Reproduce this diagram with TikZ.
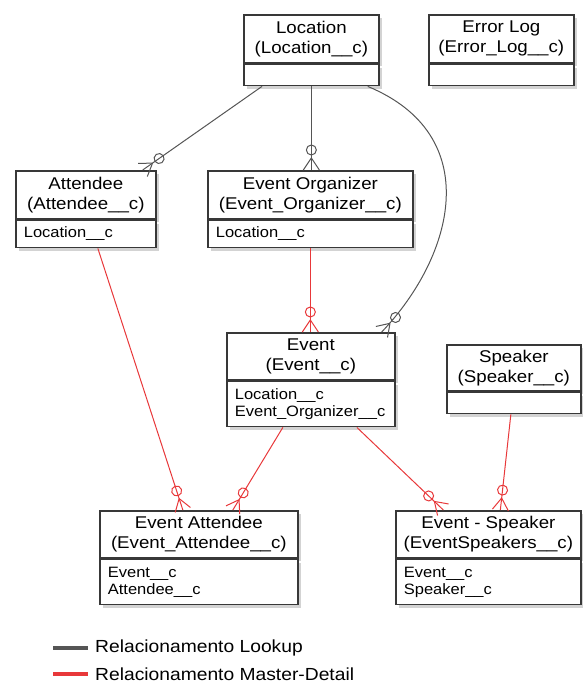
\documentclass[tikz,border=0pt]{standalone}
\usepackage{fontspec}
\setmainfont{Liberation Sans}[FakeStretch=1.1]
\usetikzlibrary{shadows,decorations.markings}
\definecolor{boxline}{HTML}{383838}
\definecolor{lkgray}{HTML}{555555}
\definecolor{mdred}{HTML}{E8383A}

\begin{document}
\begin{tikzpicture}[x=1pt, y=-1pt,
	ent/.style={draw=boxline, line width=1.7pt, fill=white, inner sep=0pt, anchor=north west,
		drop shadow={shadow xshift=3.5pt, shadow yshift=-3.5pt, opacity=.35}},
	entname/.style={ent, align=center, font=\fontsize{17}{20}\selectfont},
	entattr/.style={ent, align=left, inner xsep=8pt, font=\fontsize{15}{17}\selectfont},
	lookup/.style={color=lkgray, line width=1pt},
	md/.style={color=mdred, line width=1pt},
	zeromany/.style={postaction={decorate, decoration={markings,
		mark=at position 0.9999 with {\draw (-12pt,0) -- (0,8pt) (-12pt,0) -- (0,-8pt) (-20pt,0) circle (5pt);}}}},
	legtext/.style={anchor=west, inner sep=0pt, font=\fontsize{17.5}{20}\selectfont}]
		\useasboundingbox (0,0) rectangle (582,684);

		\path (243,14) node[entname, minimum width=135, minimum height=48] (loc) {Location\\(Location\_\_c)}
		(loc.south west) node[entattr, text width=119, minimum height=21] (locA) {}
		(428,14) node[entname, minimum width=145, minimum height=48] (err) {Error Log\\(Error\_Log\_\_c)}
		(err.south west) node[entattr, text width=129, minimum height=21] (errA) {};

		\path (15,170) node[entname, minimum width=140, minimum height=48] (att) {Attendee\\(Attendee\_\_c)}
		(att.south west) node[entattr, text width=124, minimum height=27] (attA) {Location\_\_c}
		(207,170) node[entname, minimum width=205, minimum height=48] (org) {Event Organizer\\(Event\_Organizer\_\_c)}
		(org.south west) node[entattr, text width=189, minimum height=27] (orgA) {Location\_\_c};

		\path (226,332) node[entname, minimum width=168, minimum height=47] (evt) {Event\\(Event\_\_c)}
		(evt.south west) node[entattr, text width=152, minimum height=45] (evtA) {Location\_\_c\\Event\_Organizer\_\_c}
		(446,344) node[entname, minimum width=134, minimum height=46] (spk) {Speaker\\(Speaker\_\_c)}
		(spk.south west) node[entattr, text width=118, minimum height=21] (spkA) {};

		\path (99,510) node[entname, minimum width=198, minimum height=47] (evatt) {Event Attendee\\(Event\_Attendee\_\_c)}
		(evatt.south west) node[entattr, text width=182, minimum height=45] (evattA) {Event\_\_c\\Attendee\_\_c}
		(395,510) node[entname, minimum width=185, minimum height=47] (evspk) {Event - Speaker\\(EventSpeakers\_\_c)}
		(evspk.south west) node[entattr, text width=169, minimum height=45] (evspkA) {Event\_\_c\\Speaker\_\_c};

		\draw[lookup, zeromany] ([xshift=19pt]locA.south west) -- ([xshift=-14pt]att.north east);
		\draw[lookup, zeromany] (locA.south) -- (locA.south |- org.north);
		\draw[lookup, zeromany] ([xshift=-12pt]locA.south east) .. controls (485,135) and (455,255) .. ([xshift=-14pt]evt.north east);

		\draw[md, zeromany] (orgA.south) -- (orgA.south |- evt.north);
		\draw[md, zeromany] ([xshift=12pt]attA.south) -- ([xshift=-16pt]evatt.north);
		\draw[md, zeromany] ([xshift=-28pt]evtA.south) -- ([xshift=34pt]evatt.north);
		\draw[md, zeromany] ([xshift=46pt]evtA.south) -- ([xshift=-45pt]evspk.north);
		\draw[md, zeromany] ([xshift=-3pt]spkA.south) -- ([xshift=12pt]evspk.north);

		\path (53,648) coordinate (lkA)
		(88,648) coordinate (lkB)
		(53,674) coordinate (mdA)
		(88,674) coordinate (mdB)
		(95,648) node[legtext] (lkT) {Relacionamento Lookup}
		(95,674) node[legtext] (mdT) {Relacionamento Master-Detail};

		\draw[lkgray, line width=3.5pt] (lkA) -- (lkB);
		\draw[mdred, line width=3.5pt] (mdA) -- (mdB);
	\end{tikzpicture}
\end{document}
